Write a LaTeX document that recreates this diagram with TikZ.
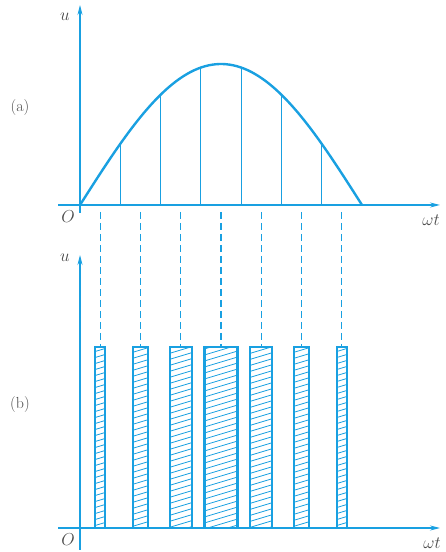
\documentclass[tikz,border=0pt]{standalone}
\usetikzlibrary{arrows.meta}
\definecolor{wave}{RGB}{25,160,225}
\begin{document}
\begin{tikzpicture}[x=1pt,y=1pt,
every node/.style={font=\fontsize{16}{16}\selectfont, text=black!70, inner sep=1pt},
axis/.style={line width=1.1pt, wave, -{Stealth[length=10pt,width=5pt]}},
curve/.style={line width=2.4pt, wave},
stem/.style={line width=1.1pt, wave},
guide/.style={line width=1.1pt, wave, dash pattern=on 7pt off 4pt},
pulse/.style={line width=2.2pt, wave},
hatch/.style={line width=0.8pt, wave}
]
\useasboundingbox (0,0) rectangle (446,552);
\coordinate (Oa) at (80,347);
\coordinate (Ob) at (80,24);
\coordinate (ua) at (80,547);
\coordinate (ub) at (80,297);
\coordinate (wa) at (440,347);
\coordinate (wb) at (440,24);
\draw[axis] ([xshift=-22pt]Oa) -- (wa);
\draw[axis] ([yshift=-8pt]Oa) -- (ua);
\draw[axis] ([xshift=-22pt]Ob) -- (wb);
\draw[axis] ([yshift=-22pt]Ob) -- (ub);
\draw[curve] plot[domain=0:1, samples=80, smooth] ({80+282*\x},{347+141*sin(180*\x)});
\foreach \k in {1,...,6}
  \draw[stem] ({80+40.286*\k},347) -- ++(0,{141*sin(180*\k/7)});
\foreach \w [count=\k from 0] in {10,15,22,33,22,15,10} {
  \pgfmathsetmacro\xc{80+40.286*(\k+0.5)}
  \begin{scope}
    \clip ({\xc-\w/2},24) rectangle ({\xc+\w/2},205);
    \foreach \h in {-20,-14,...,210}
      \draw[hatch] ({\xc-20},\h) -- ++(40,12);
  \end{scope}
  \draw[pulse] ({\xc-\w/2},24) rectangle ({\xc+\w/2},205);
  \draw[guide] (\xc,340) -- (\xc,205);
}
\node (la) at (20,444) {(a)};
\node (lb) at (20,147) {(b)};
\node (na) at (65,535) {$u$};
\node (nb) at (65,294) {$u$};
\node (oa) at (68,335) {$O$};
\node (ob) at (68,12) {$O$};
\node (ta) at (431,332) {$\omega t$};
\node (tb) at (432,9) {$\omega t$};
\end{tikzpicture}
\end{document}
